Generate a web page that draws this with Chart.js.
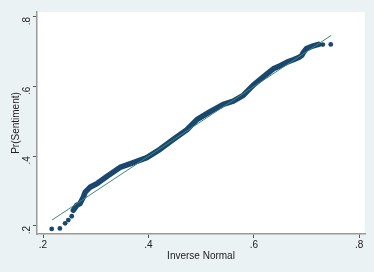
<!DOCTYPE html>
<html>
<head>
<meta charset="utf-8">
<script src="https://cdn.jsdelivr.net/npm/chart.js@4"></script>
<style>
  html, body { margin: 0; padding: 0; background: #eaf2f3; }
  #wrap { width: 374px; height: 272px; }
</style>
</head>
<body>
<div id="wrap"><canvas id="myChart" width="374" height="272"></canvas></div>
<script>
// isolated markers (inverse normal, sentiment)
const dotX = [0.2165, 0.232, 0.242, 0.248, 0.2545, 0.731, 0.746];
const dotY = [0.1915, 0.193, 0.2075, 0.217, 0.228, 0.7205, 0.721];

// dense run of markers that merge into a band
const bandX = [0.2576, 0.264, 0.270, 0.2766, 0.280, 0.289, 0.302, 0.321, 0.346, 0.3715, 0.397, 0.422, 0.447, 0.473, 0.492, 0.517, 0.542, 0.561, 0.580, 0.599, 0.6215, 0.637, 0.650, 0.663, 0.675, 0.686, 0.691, 0.694, 0.700, 0.713, 0.723];
const bandY = [0.245, 0.259, 0.264, 0.283, 0.297, 0.311, 0.321, 0.342, 0.368, 0.382, 0.396, 0.420, 0.448, 0.476, 0.505, 0.528, 0.549, 0.558, 0.575, 0.604, 0.632, 0.651, 0.660, 0.670, 0.677, 0.684, 0.689, 0.698, 0.709, 0.717, 0.721];

// reference line
const refX = [0.217, 0.747];
const refY = [0.217, 0.747];

const tickVals = [0.2, 0.4, 0.6, 0.8];

function pts(xs, ys) {
    return xs.map(function (x, i) { return {x: x, y: ys[i]}; });
}
function fmt(v) {
    return v.toFixed(1).replace(/^0/, '');
}

const bgPlugin = {
    id: 'bg',
    beforeDraw: function (chart) {
        const c = chart.ctx, a = chart.chartArea;
        c.save();
        c.fillStyle = '#eaf2f3';
        c.fillRect(0, 0, chart.width, chart.height);
        c.fillStyle = '#ffffff';
        c.fillRect(a.left, a.top, a.right - a.left, a.bottom - a.top);
        c.restore();
    }
};

const navy = '#1a476f';
const font = {family: 'Liberation Sans, Arial, sans-serif', size: 10};

new Chart(document.getElementById('myChart'), {
    type: 'scatter',
    data: {
        datasets: [{
            data: pts(refX, refY),
            showLine: true,
            borderColor: '#3b8b74',
            borderWidth: 1,
            pointRadius: 0,
            order: 0
        }, {
            data: pts(bandX, bandY),
            showLine: true,
            borderColor: navy,
            backgroundColor: navy,
            borderWidth: 5.5,
            borderCapStyle: 'round',
            borderJoinStyle: 'round',
            pointRadius: 0,
            order: 1
        }, {
            data: pts(dotX, dotY),
            backgroundColor: navy,
            borderColor: navy,
            borderWidth: 0,
            pointRadius: 2.4,
            order: 1
        }]
    },
    options: {
        responsive: false,
        animation: false,
        layout: {padding: {top: 9, right: 9, left: 6, bottom: 6}},
        plugins: {legend: {display: false}, tooltip: {enabled: false}},
        scales: {
            x: {
                type: 'linear',
                min: 0.1886, max: 0.811,
                afterBuildTicks: function (s) { s.ticks = tickVals.map(function (v) { return {value: v}; }); },
                afterFit: function (s) { s.height = 32; },
                border: {color: '#9a9a9a', width: 1.5},
                grid: {drawOnChartArea: false, tickLength: 4, tickColor: '#555', tickWidth: 1},
                ticks: {color: '#222', font: font, padding: 1, maxRotation: 0, callback: fmt},
                title: {display: true, text: 'Inverse Normal', color: '#222', font: font}
            },
            y: {
                type: 'linear',
                min: 0.177, max: 0.814,
                afterBuildTicks: function (s) { s.ticks = tickVals.map(function (v) { return {value: v}; }); },
                afterFit: function (s) { s.width = 31; },
                border: {color: '#9a9a9a', width: 1.5},
                grid: {drawOnChartArea: false, tickLength: 4, tickColor: '#555', tickWidth: 1},
                ticks: {color: '#222', font: font, padding: 6, minRotation: 90, maxRotation: 90, callback: fmt},
                title: {display: true, text: 'Pr(Sentiment)', color: '#222', font: font}
            }
        }
    },
    plugins: [bgPlugin]
});
</script>
</body>
</html>
